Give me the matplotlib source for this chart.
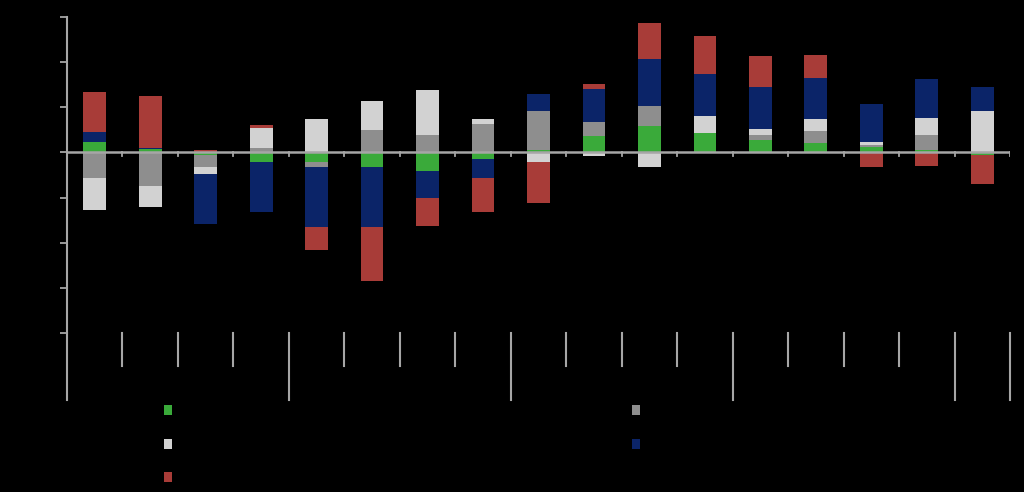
import numpy as np
import matplotlib
matplotlib.use("Agg")
import matplotlib.pyplot as plt
from matplotlib.patches import Patch

# ---- data ----
quarters = ["Q1", "Q2", "Q3", "Q4", "Q1", "Q2", "Q3", "Q4", "Q1", "Q2", "Q3", "Q4",
            "Q1", "Q2", "Q3", "Q4", "Q1"]
years = ["2008", "2009", "2010", "2011", "2012"]
year_sizes = [4, 4, 4, 4, 1]

series_names = ["Household consumption", "Government consumption", "Investment",
                "Net exports", "Inventories"]
green = [0.24, 0.08, -0.05, -0.22, -0.22, -0.33, -0.41, -0.14, 0.06, 0.36, 0.58, 0.44, 0.27, 0.20, 0.11, 0.06, -0.06]
gray = [-0.57, -0.74, -0.28, 0.10, -0.10, 0.50, 0.39, 0.63, 0.86, 0.32, 0.45, 0.00, 0.11, 0.27, 0.05, 0.33, 0.00]
lightgray = [-0.71, -0.47, -0.15, 0.44, 0.74, 0.65, 0.99, 0.10, -0.22, -0.07, -0.33, 0.36, 0.15, 0.27, 0.08, 0.38, 0.92]
blue = [0.22, 0.02, -1.10, -1.09, -1.34, -1.33, -0.61, -0.42, 0.38, 0.73, 1.03, 0.93, 0.92, 0.90, 0.83, 0.86, 0.54]
red = [0.87, 1.14, 0.05, 0.07, -0.50, -1.18, -0.61, -0.76, -0.90, 0.11, 0.80, 0.85, 0.68, 0.51, -0.33, -0.30, -0.65]

yticks = [-4, -3, -2, -1, 0, 1, 2, 3]
ytick_labels = ["-4.0%", "-3.0%", "-2.0%", "-1.0%", "0.0%", "1.0%", "2.0%", "3.0%"]

colors = ["#3aaa3a", "#8e8e8e", "#d2d2d2", "#0b2468", "#a83c38"]
axis_col = "#a6a6a6"
text_col = "#000000"

# ---- figure ----
fig = plt.figure(figsize=(10.24, 4.92), dpi=100, facecolor="black")
ax = fig.add_axes([67 / 1024, 1 - 333 / 492, (1010 - 67) / 1024, (333 - 17) / 492])
ax.set_facecolor("black")

n = len(quarters)
x = np.arange(n)
pos_bottom = np.zeros(n)
neg_bottom = np.zeros(n)
handles = []
for vals, col, name in zip([green, gray, lightgray, blue, red], colors, series_names):
    v = np.array(vals, dtype=float)
    bottom = np.where(v >= 0, pos_bottom, neg_bottom)
    ax.bar(x, v, bottom=bottom, width=0.41, color=col, edgecolor="none", zorder=2)
    pos_bottom = pos_bottom + np.where(v > 0, v, 0)
    neg_bottom = neg_bottom + np.where(v < 0, v, 0)
    handles.append(Patch(facecolor=col, edgecolor="none", label=name))

ax.set_xlim(-0.5, n - 0.5)
ax.set_ylim(-4, 3)
ax.set_yticks(yticks)
ax.set_yticklabels(ytick_labels, color=text_col, fontsize=9)
ax.tick_params(axis="y", colors=axis_col, length=5, width=1.3, labelcolor=text_col)
ax.set_xticks([])
for s in ["top", "right", "bottom"]:
    ax.spines[s].set_visible(False)
ax.spines["left"].set_color(axis_col)
ax.spines["left"].set_linewidth(1.5)

# zero line with category tick marks
ax.axhline(0, color=axis_col, lw=1.8, zorder=3)
for b in np.arange(0.5, n, 1.0):
    ax.plot([b, b], [0, -0.09], color=axis_col, lw=1.3, zorder=3)

# multi-level category axis below plot
tr = ax.get_xaxis_transform()
short_y = -0.105
long_y = -0.212
ax.plot([-0.5, -0.5], [0, long_y], transform=tr, color=axis_col, lw=1.5, clip_on=False)
year_ends = np.cumsum(year_sizes)
for b in range(1, n + 1):
    edge = b - 0.5
    ylow = long_y if b in year_ends else short_y
    ax.plot([edge, edge], [0, ylow], transform=tr, color=axis_col, lw=1.5, clip_on=False)

for i, q in enumerate(quarters):
    ax.text(i, -0.055, q, transform=tr, ha="center", va="center",
            color=text_col, fontsize=9, clip_on=False)
start = 0
for yr, sz in zip(years, year_sizes):
    ax.text(start + (sz - 1) / 2, -0.165, yr, transform=tr, ha="center", va="center",
            color=text_col, fontsize=9, clip_on=False)
    start += sz

# legend: two columns, row-major order
leg_kw = dict(frameon=False, fontsize=10, handlelength=0.6, handleheight=0.75,
              handletextpad=1.0, labelspacing=1.4, labelcolor=text_col,
              borderaxespad=0, borderpad=0)
fig.legend(handles=[handles[0], handles[2], handles[4]], loc="upper left",
           bbox_to_anchor=(164 / 1024, 1 - 404 / 492), **leg_kw)
fig.legend(handles=[handles[1], handles[3]], loc="upper left",
           bbox_to_anchor=(632 / 1024, 1 - 404 / 492), **leg_kw)

fig.savefig("out.png", dpi=100, facecolor="black")
